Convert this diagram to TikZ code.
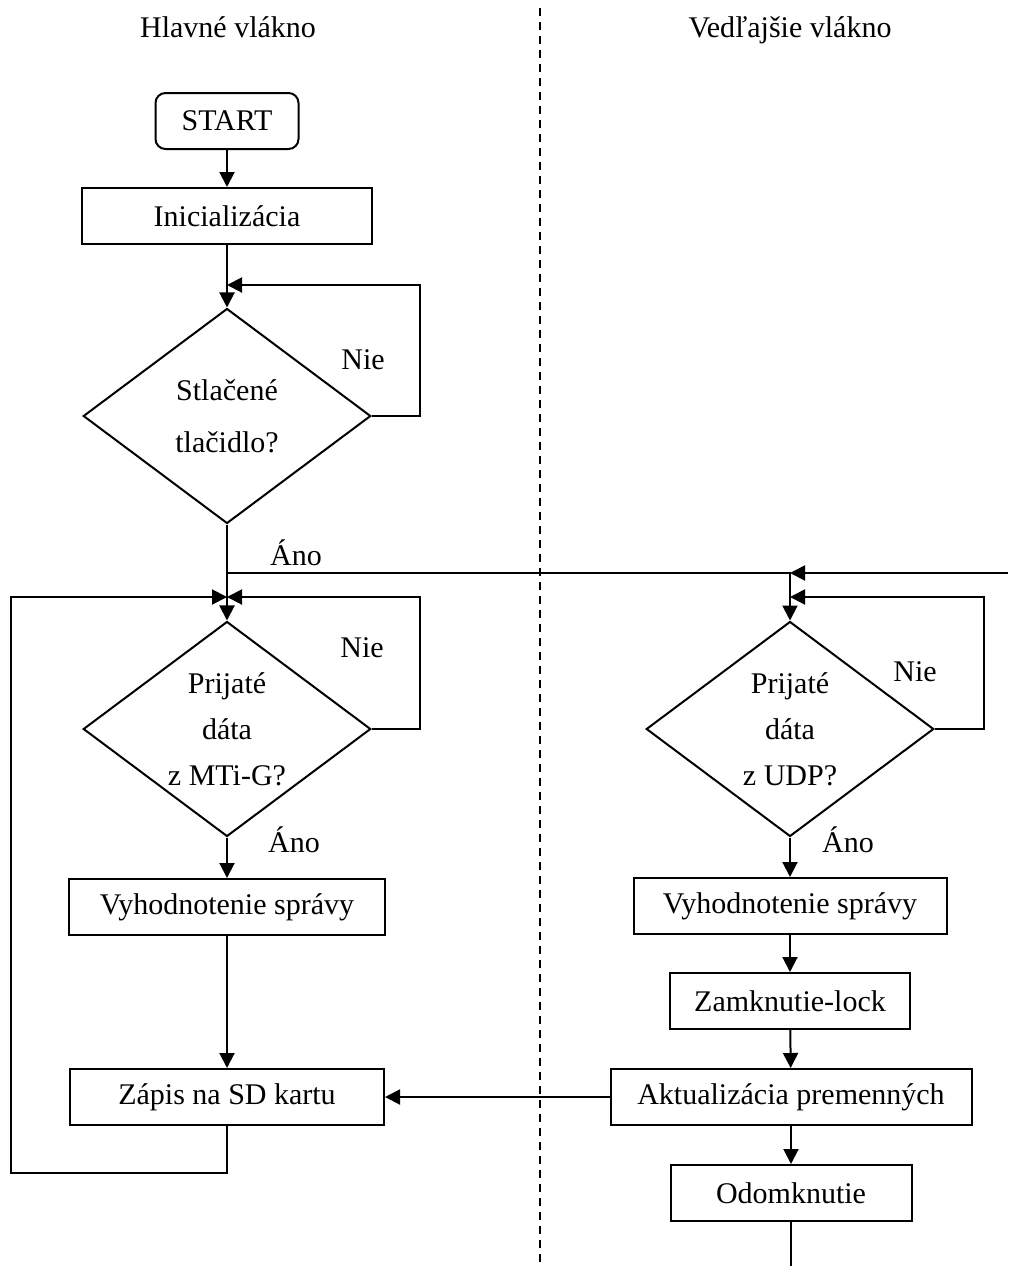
\documentclass[tikz,border=0pt]{standalone}
\usepackage{fontspec}
\setmainfont{Liberation Serif}
\usetikzlibrary{shapes.geometric,arrows.meta}

\begin{document}
\begin{tikzpicture}[x=0.4pt, y=-0.4pt,
    every node/.style={font=\fontsize{12}{18.4}\selectfont},
    blok/.style={draw, line width=0.8pt, minimum height=22.4pt, inner sep=0pt},
    zaciatok/.style={blok, rounded corners=4pt},
    rozhod/.style={draw, diamond, aspect=1.34, line width=0.8pt, minimum width=115pt, minimum height=86pt, inner sep=0pt, align=center},
    sipka/.style={line width=0.8pt, -{Triangle[length=6pt,width=6pt]}},
    ciara/.style={line width=0.8pt},
    oddelovac/.style={line width=0.8pt, dash pattern=on 3.2pt off 2.4pt}]

    \useasboundingbox (0,0) rectangle (1008,1266);

    % Nadpisy vlakien
    \node[anchor=base] (hlavne) at (228,37) {Hlavné vlákno};
    \node[anchor=base] (vedlajsie) at (790,37) {Vedľajšie vlákno};

    \coordinate (delH) at (540,8);
    \coordinate (delD) at (540,1266);
    \draw[oddelovac] (delH) -- (delD);

    % Hlavne vlakno
    \node[zaciatok, minimum width=57.2pt] (start) at (227,121) {START};
    \node[blok, minimum width=116pt] (init) at (227,216) {Inicializácia};
    \node[rozhod, font=\fontsize{12}{20.8}\selectfont] (tlac) at (227,416) {Stlačené\\tlačidlo?};
    \node[rozhod] (mti) at (227,729) {Prijaté\\dáta\\z MTi-G?};
    \node[blok, minimum width=126.4pt] (vyhH) at (227,907) {Vyhodnotenie správy};
    \node[blok, minimum width=125.6pt] (zapis) at (227,1097) {Zápis na SD kartu};

    % Vedlajsie vlakno
    \node[rozhod] (udp) at (790,729) {Prijaté\\dáta\\z UDP?};
    \node[blok, minimum width=125.2pt] (vyhV) at (790,906) {Vyhodnotenie správy};
    \node[blok, minimum width=96pt] (zamk) at (790,1001) {Zamknutie-lock};
    \node[blok, minimum width=144.4pt] (aktual) at (791,1097) {Aktualizácia premenných};
    \node[blok, minimum width=96.4pt] (odomk) at (791,1193) {Odomknutie};

    % Popisy vetiev
    \node (nie1) at (363,360) {Nie};
    \node (ano1) at (296,553) {Áno};
    \node (nie2) at (362,648) {Nie};
    \node (ano2) at (294,840) {Áno};
    \node (nie3) at (915,672) {Nie};
    \node (ano3) at (848,840) {Áno};

    % Body spojenia
    \coordinate (s1) at (227,285);
    \coordinate (s2) at (227,597);
    \coordinate (s3) at (227,573);
    \coordinate (s4) at (790,597);
    \coordinate (s5) at (790,573);
    \coordinate (vstup) at (1008,573);
    \coordinate (lavo) at (11,597);
    \coordinate (koniec) at (791,1266);

    % Sipky
    \draw[sipka] (start) -- (init);
    \draw[sipka] (init) -- (tlac);
    \draw[sipka] (tlac.east) -- ++(48,0) |- (s1);
    \draw[sipka] (tlac) -- (mti);
    \draw[sipka] (s3) -| (udp.north);
    \draw[sipka] (vstup) -- (s5);
    \draw[sipka] (mti.east) -- ++(48,0) |- (s2);
    \draw[sipka] (mti) -- (vyhH);
    \draw[sipka] (vyhH) -- (zapis);
    \draw[sipka] (zapis.south) -- ++(0,47) -| (lavo) -- (s2);

    \draw[sipka] (udp.east) -- ++(49,0) |- (s4);
    \draw[sipka] (udp) -- (vyhV);
    \draw[sipka] (vyhV) -- (zamk);
    \draw[sipka] (zamk) -- (aktual);
    \draw[sipka] (aktual) -- (odomk);
    \draw[sipka] (aktual) -- (zapis);
    \draw[ciara] (odomk) -- (koniec);

\end{tikzpicture}
\end{document}
